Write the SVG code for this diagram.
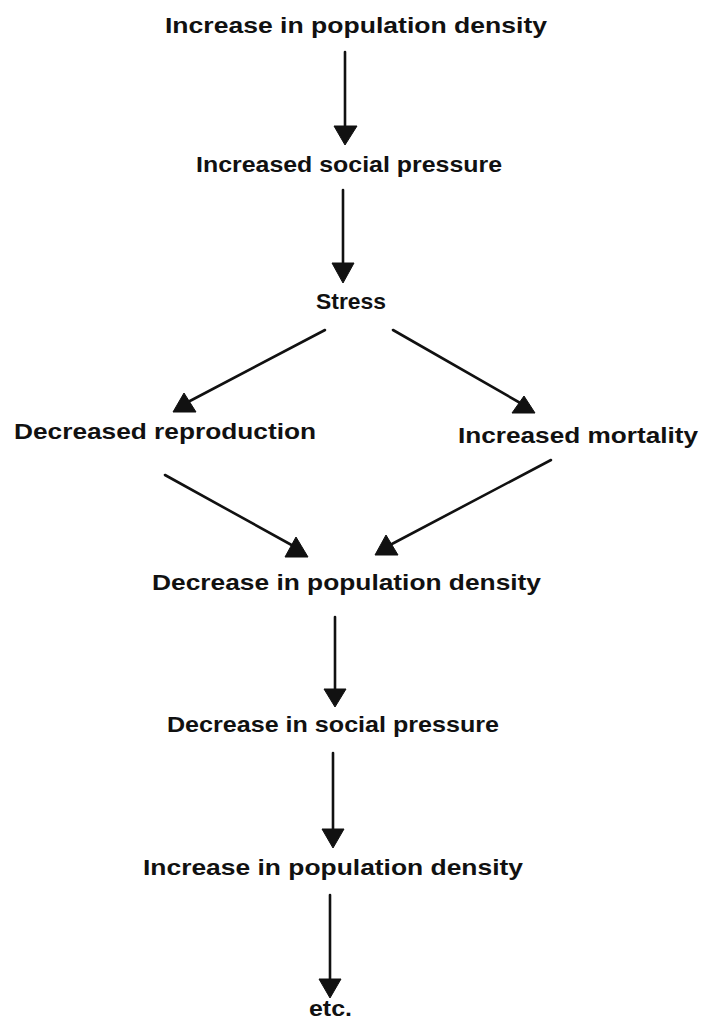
<svg xmlns="http://www.w3.org/2000/svg" width="703" height="1021" viewBox="0 0 703 1021">
<style>
.lbl{font-family:"Liberation Sans","DejaVu Sans",sans-serif;font-size:22px;font-weight:bold;fill:#111}
.ln{stroke:#111;stroke-width:2.6;fill:none;stroke-linecap:round}
.hd{fill:#111;stroke:#111;stroke-width:1;stroke-linejoin:round}
</style>
<rect width="703" height="1021" fill="#fff"/>
<g id="connectors">
<line class="ln" x1="345" y1="52" x2="345" y2="128"/>
<polygon class="hd" points="334,126 357,126 345,145"/>
<line class="ln" x1="343" y1="190" x2="343" y2="265"/>
<polygon class="hd" points="332,263 354,263 343,283"/>
<line class="ln" x1="325" y1="330" x2="188" y2="402"/>
<polygon class="hd" points="173,412 196,412 184,393"/>
<line class="ln" x1="393" y1="330" x2="522" y2="404"/>
<polygon class="hd" points="512,413 535,413 524,396"/>
<line class="ln" x1="165" y1="475" x2="297" y2="548"/>
<polygon class="hd" points="285,557 308,557 296,537"/>
<line class="ln" x1="551" y1="460" x2="390" y2="545"/>
<polygon class="hd" points="375,555 398,555 386,535"/>
<line class="ln" x1="335" y1="617" x2="335" y2="691"/>
<polygon class="hd" points="324,689 346,689 335,707"/>
<line class="ln" x1="333" y1="753" x2="333" y2="831"/>
<polygon class="hd" points="322,829 344,829 333,848"/>
<line class="ln" x1="330" y1="895" x2="330" y2="981"/>
<polygon class="hd" points="319,979 341,979 330,998"/>
</g>
<g id="n1"><text class="lbl" x="165" y="33" textLength="382" lengthAdjust="spacingAndGlyphs">Increase in population density</text></g>
<g id="n2"><text class="lbl" x="196" y="172" textLength="306" lengthAdjust="spacingAndGlyphs">Increased social pressure</text></g>
<g id="n3"><text class="lbl" x="316" y="309" textLength="70" lengthAdjust="spacingAndGlyphs">Stress</text></g>
<g id="n4"><text class="lbl" x="14" y="439" textLength="302" lengthAdjust="spacingAndGlyphs">Decreased reproduction</text></g>
<g id="n5"><text class="lbl" x="458" y="443" textLength="240" lengthAdjust="spacingAndGlyphs">Increased mortality</text></g>
<g id="n6"><text class="lbl" x="152" y="590" textLength="389" lengthAdjust="spacingAndGlyphs">Decrease in population density</text></g>
<g id="n7"><text class="lbl" x="167" y="732" textLength="332" lengthAdjust="spacingAndGlyphs">Decrease in social pressure</text></g>
<g id="n8"><text class="lbl" x="143" y="875" textLength="380" lengthAdjust="spacingAndGlyphs">Increase in population density</text></g>
<g id="n9"><text class="lbl" x="309" y="1016" textLength="43" lengthAdjust="spacingAndGlyphs">etc.</text></g>
</svg>
